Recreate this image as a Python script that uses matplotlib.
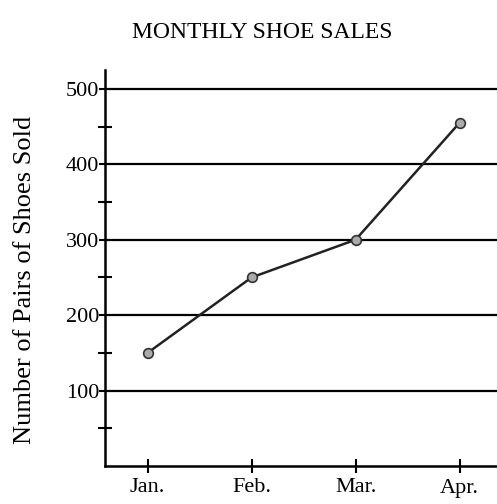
import matplotlib.pyplot as plt

months = ['Jan.', 'Feb.', 'Mar.', 'Apr.']
pairs_sold = [150, 250, 300, 455]
y_ticks = [100, 200, 300, 400, 500]
y_minor = [50, 150, 250, 350, 450]

plt.rcParams['font.family'] = ['Liberation Serif', 'DejaVu Serif']

fig = plt.figure(figsize=(4.97, 5.04), dpi=100)
ax = fig.add_axes([105 / 497, 1 - 466 / 504, 1 - 105 / 497, (466 - 70) / 504])

# horizontal grid lines
for v in y_ticks:
    ax.axhline(v, color='black', lw=1.6, zorder=1)

x = list(range(len(months)))
ax.plot(x, pairs_sold, color='#222222', lw=1.8, zorder=2,
        marker='o', markersize=7, markerfacecolor='#aaaaaa',
        markeredgecolor='#333333', markeredgewidth=1.2)

ax.set_xlim(-0.41, 3.36)
ax.set_ylim(0, 525)

ax.set_xticks(x)
ax.set_xticklabels(months, fontsize=16)
ax.set_yticks(y_ticks)
ax.set_yticklabels([str(v) for v in y_ticks], fontsize=16)
ax.set_yticks(y_minor, minor=True)

ax.tick_params(axis='y', which='major', direction='out', length=4, width=1.5, pad=0)
ax.tick_params(axis='y', which='minor', direction='inout', length=10, width=1.5)
ax.tick_params(axis='x', direction='inout', length=10, width=1.5, pad=4)

for side in ['top', 'right']:
    ax.spines[side].set_visible(False)
ax.spines['left'].set_linewidth(1.8)
ax.spines['bottom'].set_linewidth(1.8)

ax.set_ylabel('Number of Pairs of Shoes Sold', fontsize=19)
ax.yaxis.set_label_coords(-0.175, 0.47)
fig.text(262 / 497, 1 - 32 / 504, 'MONTHLY SHOE SALES', ha='center', va='center', fontsize=17)

fig.savefig('out.png', dpi=100)
